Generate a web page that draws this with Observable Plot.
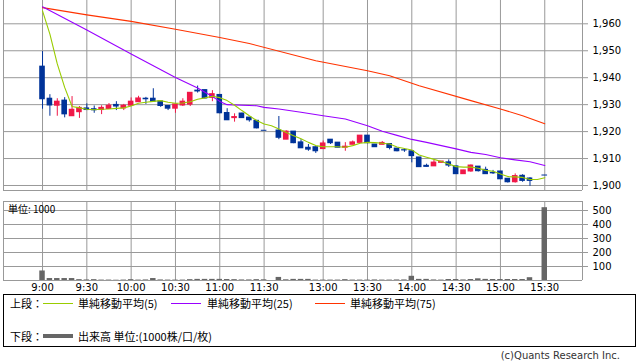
<!DOCTYPE html>
<html><head><meta charset="utf-8">
<script src="https://cdn.jsdelivr.net/npm/d3@7"></script>
<script src="https://cdn.jsdelivr.net/npm/@observablehq/plot@0.6"></script>
<style>
html,body{margin:0;padding:0;background:#fff;}
body{width:638px;height:362px;position:relative;overflow:hidden;font-family:"DejaVu Sans",sans-serif;}
#upper,#vol{position:absolute;left:0;}
#upper{top:0;} #vol{top:200px;}
.lbl{position:absolute;font-family:"Noto Sans CJK JP","DejaVu Sans",sans-serif;font-size:11px;line-height:14px;height:14px;white-space:nowrap;color:#000;}
.sw{position:absolute;}
#box{position:absolute;left:3px;top:294px;width:631px;height:51px;border:1px solid #000;}
#caption{position:absolute;right:18px;top:349px;font-size:10px;line-height:14px;color:#333;font-family:"DejaVu Sans",sans-serif;}
#unit{position:absolute;left:8px;top:202px;font-size:10px;line-height:14px;font-family:"Noto Sans CJK JP","DejaVu Sans",sans-serif;}
</style></head>
<body>
<div id="upper"></div>
<div id="vol"></div>
<div id="unit">単位: 1000</div>
<div id="box"></div>
<div class="lbl" style="left:10px;top:296px;">上段：</div>
<div class="sw" style="left:43px;top:303px;width:30px;height:1px;background:#99cc00;"></div>
<div class="lbl" style="left:78px;top:296px;">単純移動平均(5)</div>
<div class="sw" style="left:171px;top:303px;width:30px;height:1px;background:#9900ff;"></div>
<div class="lbl" style="left:207px;top:296px;">単純移動平均(25)</div>
<div class="sw" style="left:315px;top:303px;width:30px;height:1px;background:#ff3300;"></div>
<div class="lbl" style="left:350px;top:296px;">単純移動平均(75)</div>
<div class="lbl" style="left:10px;top:329px;">下段：</div>
<div class="sw" style="left:43px;top:334px;width:30px;height:4px;background:#666;"></div>
<div class="lbl" style="left:78px;top:329px;">出来高 単位:(1000株/口/枚)</div>
<div id="caption">(c)Quants Research Inc.</div>
<script>
// ---- data ----
const tickSlots = [0, 6, 12, 18, 24, 30, 38, 44, 50, 56, 62, 68];
const tickLabels = ["9:00","9:30","10:00","10:30","11:00","11:30","13:00","13:30","14:00","14:30","15:00","15:30"];
const priceTicks = [1900, 1910, 1920, 1930, 1940, 1950, 1960];
const volTicks = [100, 200, 300, 400, 500];

const open = [1944.1,1932.2,1929.6,1931.5,1925.7,1927.2,1928.6,1928.3,1928.0,1928.4,
 1929.9,1928.6,1929.6,1930.9,1932.2,1932.2,1931.2,1929.5,1928.5,1929.7,
 1930.0,1935.2,1935.4,1932.5,1933.6,1926.9,1925.0,1926.7,1925.2,1924.0,
 1920.3,null,1920.4,1917.0,1920.0,1916.0,1914.0,1914.2,1913.5,1917.0,
 1915.9,1914.0,1915.1,1915.8,1918.5,1915.2,1915.1,1915.4,1913.7,1913.1,
 1912.7,1910.4,1907.3,1907.1,1908.4,1908.6,1907.1,1904.2,1905.2,1907.0,
 1905.8,1904.7,1905.2,1902.5,1901.2,1903.6,1902.6,null,1903.7];
const high = [1949.7,1933.7,1932.2,1932.6,1933.0,1929.3,1930.3,1929.5,1929.6,1930.4,
 1931.1,1930.1,1932.5,1933.1,1932.7,1935.9,1931.2,1929.5,1930.1,1932.2,
 1934.4,1936.9,1935.4,1935.2,1933.6,1928.5,1926.6,1926.8,1925.3,1924.0,
 1920.3,null,1925.6,1920.3,1920.0,1917.0,1915.2,1914.4,1916.5,1917.0,
 1915.9,1915.9,1916.5,1918.5,1918.5,1915.2,1916.3,1915.4,1913.7,1913.7,
 1912.7,1910.4,1907.9,1909.3,1908.9,1909.5,1907.1,1905.6,1907.6,1907.0,
 1906.8,1905.6,1905.2,1902.5,1904.3,1904.0,1902.9,null,1903.7];
const low = [1928.3,1925.7,1925.7,1925.1,1925.7,1924.9,1927.8,1926.8,1926.3,1928.3,
 1927.8,1927.8,1929.3,1930.9,1930.1,1931.1,1929.0,1927.8,1926.8,1929.3,
 1929.3,1934.3,1932.2,1931.1,1926.6,1924.1,1923.5,1924.9,1923.5,1921.0,
 1920.3,null,1917.0,1917.0,1915.5,1913.8,1912.7,1911.9,1913.5,1915.2,
 1914.0,1912.7,1915.1,1915.8,1915.5,1914.2,1915.1,1913.2,1912.5,1912.3,
 1908.4,1906.8,1906.8,1907.1,1908.4,1906.7,1904.2,1904.2,1904.9,1905.0,
 1904.2,1904.1,1902.2,1900.9,1900.9,1901.2,1899.7,null,1903.7];
const close = [1932.0,1929.7,1931.1,1926.4,1928.1,1928.8,1928.0,1927.9,1928.8,1929.6,
 1929.3,1929.6,1931.1,1932.3,1932.0,1931.1,1929.5,1928.5,1930.1,1931.1,
 1934.4,1934.9,1932.3,1933.9,1926.8,1924.2,1925.4,1925.0,1924.2,1921.2,
 1920.3,null,1917.7,1920.0,1915.7,1913.8,1913.3,1912.7,1915.6,1915.7,
 1914.0,1914.4,1916.0,1918.5,1915.7,1914.2,1915.8,1913.9,1912.7,1913.0,
 1910.9,1906.8,1906.9,1908.5,1908.9,1907.4,1904.2,1905.6,1907.4,1905.3,
 1904.2,1904.5,1902.3,1901.2,1903.5,1901.7,1901.7,null,1903.7];
const volume = [68,14,14,14,14,6,4,6,3,3,
 2,3,6,3,4,14,4,3,3,3,
 6,8,8,8,8,7,6,4,4,6,
 5,0,22,5,8,8,8,3,3,3,
 3,6,3,3,3,4,3,3,4,4,
 30,8,8,4,3,7,7,4,7,12,
 8,7,7,7,7,7,20,0,520];
const sma5 = [1964.8,1956.2,1945.1,1936.4,1929.3,1928.8,1928.3,1928.1,1928.3,1928.4,
 1928.6,1928.8,1929.5,1930.5,1930.9,1931.2,1931.5,1930.9,1930.5,1930.6,
 1931.1,1932.0,1932.5,1933.1,1932.6,1931.5,1929.8,1927.8,1925.9,1924.1,
 1922.8,1922.2,1921.0,1919.7,1918.5,1917.3,1916.0,1914.8,1914.4,1914.4,
 1914.4,1914.2,1914.8,1915.7,1916.0,1915.9,1915.7,1915.4,1914.3,1913.7,
 1913.2,1911.3,1910.5,1909.7,1908.9,1908.0,1907.0,1906.8,1906.8,1906.4,
 1905.6,1905.3,1904.3,1903.3,1903.2,1903.0,1902.2,1902.2,1902.9];
const sma25Slot = [0,6,12,18,21,23,24,25,29,30,32,35,38,41,44,46,48,50,52,54,56,58,60,62,64,66,68];
const sma25 = [1966.3,1957.7,1948.8,1940.1,1936.2,1933.0,1931.2,1930.0,1929.6,1929.0,1928.4,1927.2,1925.9,1924.7,1922.2,1920.1,1918.6,1917.1,1916.0,1914.8,1913.6,1912.3,1911.5,1910.3,1909.5,1908.8,1907.4];
const sma75Slot = [0,6,12,18,24,28,37,44,47,51,58,62,65,68];
const sma75 = [1966.0,1963.3,1960.9,1958.0,1954.9,1952.7,1946.3,1942.6,1940.7,1937.0,1931.5,1928.4,1925.9,1922.9];

// ---- styles ----
const UP = "#f01848", DOWN = "#003399", GRID = "#999999";
const C5 = "#99cc00", C25 = "#9900ff", C75 = "#ff3300";
const XDOM = [-39 / 7.3824, 73.11];

const candles = open.map((o, i) => ({slot: i, open: o, high: high[i], low: low[i], close: close[i]}))
  .filter(d => d.open != null);
const ups = candles.filter(d => d.close > d.open);
const downs = candles.filter(d => !(d.close > d.open));
const s5 = sma5.map((v, i) => ({slot: i, v}));
const s25 = sma25.map((v, i) => ({slot: sma25Slot[i], v}));
const s75 = sma75.map((v, i) => ({slot: sma75Slot[i], v}));
const vols = volume.map((v, i) => ({slot: i, v})).filter(d => d.v > 0);
const xt = tickSlots.map((s, i) => ({slot: s, label: tickLabels[i]}));

function candleMarks(arr, color) {
  return [
    Plot.ruleX(arr, {x: "slot", y1: "low", y2: "high", stroke: color, strokeWidth: 1}),
    Plot.rect(arr, {x1: d => d.slot - 0.38, x2: d => d.slot + 0.38,
      y1: d => Math.min(d.open, d.close), y2: d => Math.max(d.open, d.close),
      fill: color, insetTop: -0.5, insetBottom: -0.5})
  ];
}

const upper = Plot.plot({
  width: 638, height: 192,
  marginLeft: 3, marginRight: 56, marginTop: 0, marginBottom: 2,
  x: {type: "linear", domain: XDOM, axis: null},
  y: {domain: [1898.14, 1968.65], axis: null},
  style: {background: "transparent", fontFamily: "DejaVu Sans, sans-serif", fontSize: "10px", overflow: "visible"},
  marks: [
    Plot.ruleX(tickSlots, {x: d => d, stroke: GRID}),
    Plot.ruleY(priceTicks, {y: d => d, stroke: GRID}),
    Plot.ruleX(XDOM, {x: d => d, stroke: GRID}),
    Plot.ruleY([1898.14], {y: d => d, stroke: GRID}),
    Plot.axisY(priceTicks, {anchor: "right", tickSize: 5, tickPadding: 5, stroke: GRID, fill: "#000",
      tickFormat: d3.format(","), label: null}),
    ...candleMarks(downs, DOWN),
    ...candleMarks(ups, UP),
    Plot.line(s75, {x: "slot", y: "v", stroke: C75, strokeWidth: 1.1}),
    Plot.line(s25, {x: "slot", y: "v", stroke: C25, strokeWidth: 1.1}),
    Plot.line(s5, {x: "slot", y: "v", stroke: C5, strokeWidth: 1.1})
  ]
});
document.getElementById("upper").appendChild(upper);

const YV = [0, 79 / 0.14];
const vol = Plot.plot({
  width: 638, height: 100,
  marginLeft: 3, marginRight: 56, marginTop: 1, marginBottom: 20,
  x: {type: "linear", domain: XDOM, axis: null},
  y: {domain: YV, axis: null},
  style: {background: "transparent", fontFamily: "DejaVu Sans, sans-serif", fontSize: "10px", overflow: "visible"},
  marks: [
    Plot.ruleX(tickSlots, {x: d => d, stroke: GRID}),
    Plot.ruleY(volTicks, {y: d => d, stroke: GRID}),
    Plot.ruleX(XDOM, {x: d => d, stroke: GRID}),
    Plot.ruleY(YV, {y: d => d, stroke: GRID}),
    Plot.axisY(volTicks, {anchor: "right", tickSize: 5, tickPadding: 5, stroke: GRID, fill: "#000", label: null}),
    Plot.rect(vols, {x1: d => d.slot - 0.37, x2: d => d.slot + 0.37, y1: 0, y2: "v", fill: "#666666"}),
    Plot.text(xt, {x: "slot", text: "label", frameAnchor: "bottom", lineAnchor: "top", dy: 3, fill: "#000"})
  ]
});
document.getElementById("vol").appendChild(vol);
</script>
</body></html>
